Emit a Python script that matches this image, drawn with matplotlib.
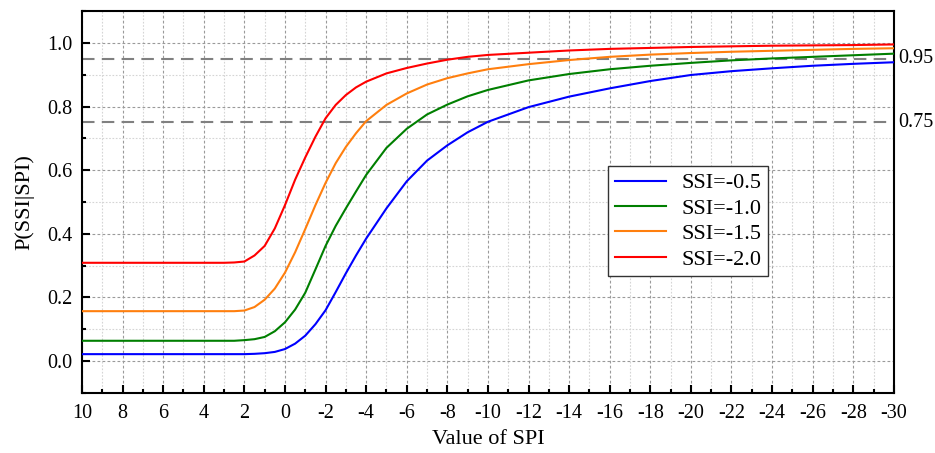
import matplotlib
matplotlib.use("Agg")
import matplotlib.pyplot as plt
from matplotlib.ticker import MultipleLocator, FixedLocator
import matplotlib.transforms as mtransforms

plt.rcParams['font.family'] = ['Liberation Serif', 'DejaVu Serif']

spi = [10, 3, 2.5, 2, 1.5, 1, 0.5, 0, -0.5, -1, -1.5, -2, -2.5, -3, -3.5, -4, -5, -6, -7, -8, -9,
       -10, -12, -14, -16, -18, -20, -22, -24, -26, -28, -30]

p_ssi_05 = [0.022, 0.022, 0.022, 0.022, 0.023, 0.025, 0.029, 0.038, 0.055, 0.080, 0.116, 0.160,
            0.217, 0.276, 0.332, 0.385, 0.480, 0.565, 0.630, 0.678, 0.719,
            0.752, 0.798, 0.831, 0.857, 0.880, 0.899, 0.911, 0.920, 0.928, 0.934, 0.939]
p_ssi_10 = [0.064, 0.064, 0.064, 0.066, 0.069, 0.076, 0.094, 0.122, 0.162, 0.215, 0.288, 0.362,
            0.425, 0.480, 0.533, 0.585, 0.670, 0.730, 0.775, 0.806, 0.832,
            0.852, 0.882, 0.902, 0.917, 0.928, 0.937, 0.945, 0.951, 0.956, 0.961, 0.966]
p_ssi_15 = [0.157, 0.157, 0.157, 0.159, 0.170, 0.193, 0.228, 0.278, 0.342, 0.415, 0.490, 0.560,
            0.622, 0.673, 0.716, 0.754, 0.805, 0.841, 0.869, 0.889, 0.904,
            0.917, 0.933, 0.946, 0.956, 0.963, 0.968, 0.972, 0.975, 0.978, 0.981, 0.983]
p_ssi_20 = [0.309, 0.309, 0.310, 0.313, 0.332, 0.362, 0.417, 0.490, 0.570, 0.640, 0.705, 0.763,
            0.805, 0.836, 0.860, 0.878, 0.904, 0.921, 0.935, 0.947, 0.956,
            0.962, 0.969, 0.976, 0.981, 0.984, 0.987, 0.989, 0.991, 0.992, 0.993, 0.995]

labels = ['SSI=-0.5', 'SSI=-1.0', 'SSI=-1.5', 'SSI=-2.0']
colors = ['#0000ff', '#007f00', '#ff7f0e', '#ff0000']
thresholds = [0.95, 0.75]
threshold_labels = ['0.95', '0.75']

fig = plt.figure(figsize=(9.35, 4.53), dpi=100)
ax = fig.add_axes([0.0877, 0.1325, 0.8683, 0.8432])

for y, lab, c in zip([p_ssi_05, p_ssi_10, p_ssi_15, p_ssi_20], labels, colors):
    ax.plot(spi, y, color=c, lw=1.5, label=lab, zorder=3, solid_joinstyle='round')

trans = mtransforms.blended_transform_factory(ax.transAxes, ax.transData)
for t, tl in zip(thresholds, threshold_labels):
    ax.axhline(t, color='#808080', lw=1.5, linestyle=(0, (6, 3.5)), zorder=2)
    ax.text(1.005, t, tl, transform=trans, va='center', ha='left', fontsize=14.5)

ax.set_xlim(10, -30)
ax.set_ylim(-0.1, 1.1)
ax.xaxis.set_major_locator(FixedLocator(list(range(10, -31, -2))))
ax.xaxis.set_minor_locator(MultipleLocator(1))
ax.yaxis.set_major_locator(FixedLocator([0.0, 0.2, 0.4, 0.6, 0.8, 1.0]))
ax.yaxis.set_minor_locator(MultipleLocator(0.1))
ax.set_yticklabels(['0.0', '0.2', '0.4', '0.6', '0.8', '1.0'])
ax.set_xticklabels([str(v) for v in range(10, -31, -2)])

ax.grid(which='major', color='#9a9a9a', linestyle=(0, (2.5, 2)), lw=0.8, zorder=0)
ax.grid(which='minor', color='#d5d5d5', linestyle=(0, (1.5, 1.5)), lw=0.8, zorder=0)

ax.tick_params(which='both', direction='in', top=False, right=False, labelsize=14.5, width=1.5)
ax.tick_params(which='major', length=6)
ax.tick_params(which='minor', length=3)
ax.tick_params(axis='y', pad=7)
ax.tick_params(axis='x', pad=8)
for s in ax.spines.values():
    s.set_linewidth(1.5)

ax.set_xlabel('Value of SPI', fontsize=16, labelpad=5)
ax.set_ylabel('P(SSI|SPI)', fontsize=16, labelpad=9)

leg = ax.legend(loc='upper left', bbox_to_anchor=(0.648, 0.594), fontsize=16,
                frameon=True, fancybox=False, framealpha=1, edgecolor='#333333',
                handlelength=2.3, borderpad=0.3, labelspacing=0.22, handletextpad=0.7,
                borderaxespad=0)
leg.get_frame().set_linewidth(1.0)

fig.savefig('out.png', dpi=100)
